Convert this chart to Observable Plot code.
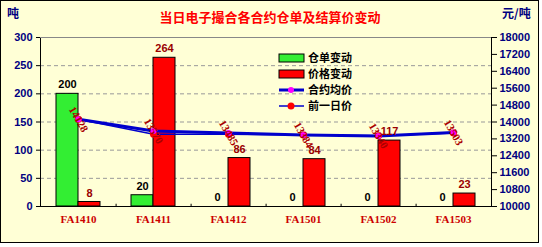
<!DOCTYPE html>
<html><head><meta charset="utf-8">
<script src="https://cdn.jsdelivr.net/npm/d3@7"></script>
<script src="https://cdn.jsdelivr.net/npm/@observablehq/plot@0.6"></script>
<style>
body{margin:0;background:#fff;}
#wrap{position:relative;width:542px;height:247px;}
</style></head>
<body><div id="wrap"></div>
<script>
const categories = ["FA1410","FA1411","FA1412","FA1501","FA1502","FA1503"];
const warehouseChange = [200, 20, 0, 0, 0, 0];
const priceChange = [8, 264, 86, 84, 117, 23];
const avgPrice = [14128, 13570, 13485, 13384, 13340, 13503];
const prevPrice = [14128, 13420, 13420, 13380, 13350, 13480];
const leftTicks = [0, 50, 100, 150, 200, 250, 300];
const rightTicks = [10000, 10800, 11600, 12400, 13200, 14000, 14800, 15600, 16400, 17200, 18000];
const title = "当日电子撮合各合约仓单及结算价变动";
const seriesNames = ["仓单变动", "价格变动", "合约均价", "前一日价"];

const R0 = 10000, R1 = 18000, L1 = 300;
const toLeft = v => (v - R0) * L1 / (R1 - R0);

const bars1 = categories.map((c, i) => ({c, v: warehouseChange[i]}));
const bars2 = categories.map((c, i) => ({c, v: priceChange[i]}));
const line1 = categories.map((c, i) => ({c, v: toLeft(avgPrice[i]), label: String(avgPrice[i])}));
const line2 = categories.map((c, i) => ({c, v: toLeft(prevPrice[i])}));

const navy = "#000080";
const bg = "#FFFFD6";
const font = "Liberation Sans, Arial, sans-serif";

const chart = Plot.plot({
  width: 542, height: 247,
  marginTop: 37, marginBottom: 41, marginLeft: 40, marginRight: 51,
  style: {background: "transparent", fontFamily: font},
  x: {domain: categories, paddingInner: 0.415, paddingOuter: 0.2075, label: null},
  y: {domain: [0, 300], label: null},
  marks: [
    Plot.ruleY([50, 100, 150, 200, 250], {stroke: "#999", strokeDasharray: "4,3"}),
    Plot.barY(bars1, {x: "c", y: "v", fill: "#33EE33", stroke: "black", strokeWidth: 1, insetRight: 22}),
    Plot.barY(bars2, {x: "c", y: "v", fill: "#FF0000", stroke: "black", strokeWidth: 1, insetLeft: 22}),
    Plot.frame({stroke: "black"}),
    Plot.ruleY([300], {stroke: "#888"}),
    Plot.ruleX(categories.slice(0, -1), {x: d => d, dx: 37.6, y1: 0, y2: 4, stroke: "black"}),
    Plot.lineY(line2, {x: "c", y: "v", stroke: "#0000CC", strokeWidth: 1.5}),
    Plot.lineY(line1, {x: "c", y: "v", stroke: "#0000CC", strokeWidth: 3}),
    Plot.dot(line2, {x: "c", y: "v", fill: "#FF0000", r: 3.5}),
    Plot.dot(line1, {x: "c", y: "v", fill: "#FF00FF", r: 3}),
    Plot.text(line1, {x: "c", y: "v", text: "label", rotate: 60, fill: "#AA0000", fontSize: 11, fontWeight: "bold", fontFamily: "Liberation Serif, serif"}),
    Plot.text(bars1, {x: "c", y: "v", text: d => String(d.v), dx: -11, dy: -9, fill: "black", fontSize: 11, fontWeight: "bold"}),
    Plot.text(bars2, {x: "c", y: "v", text: d => String(d.v), dx: 11, dy: -9, fill: "#990000", fontSize: 11, fontWeight: "bold"}),
    Plot.axisY({ticks: leftTicks, tickSize: 4, tickPadding: 4, fill: navy, fontSize: 11, fontWeight: "bold", label: null}),
    Plot.axisY({anchor: "right", ticks: rightTicks.map(toLeft), tickFormat: d => String(Math.round(R0 + d * (R1 - R0) / L1)), tickSize: 5, tickPadding: 3, fill: navy, fontSize: 11, fontWeight: "bold", label: null}),
    Plot.axisX({tickSize: 0, tickPadding: 9, fill: "#CC0000", fontSize: 11, fontWeight: "bold", fontFamily: "Liberation Serif, serif", label: null})
  ]
});

const svg = d3.select(chart);
svg.insert("rect", ":first-child").attr("x", 0.5).attr("y", 0.5).attr("width", 538).attr("height", 242)
  .attr("fill", bg).attr("stroke", "black");
const cjk = "Noto Sans CJK SC, sans-serif";
svg.append("text").attr("x", 270).attr("y", 22).attr("text-anchor", "middle")
  .attr("fill", "#FF0000").attr("font-size", 13).attr("font-weight", "bold").attr("font-family", cjk).text(title);
svg.append("text").attr("x", 7).attr("y", 18).attr("text-anchor", "start").attr("fill", navy).attr("font-size", 12).attr("font-weight", "bold").attr("font-family", cjk).text("吨");
svg.append("text").attr("x", 502).attr("y", 18).attr("text-anchor", "start").attr("fill", navy).attr("font-size", 12).attr("font-weight", "bold").attr("font-family", cjk).text("元/吨");

const lg = svg.append("g").attr("font-family", cjk).attr("font-size", 11).attr("font-weight", "bold").attr("text-anchor", "start");
const rows = [58, 74, 90, 106];
lg.append("rect").attr("x", 279).attr("y", rows[0] - 4).attr("width", 25).attr("height", 8).attr("fill", "#33EE33").attr("stroke", "black");
lg.append("rect").attr("x", 279).attr("y", rows[1] - 4).attr("width", 25).attr("height", 8).attr("fill", "#FF0000").attr("stroke", "black");
lg.append("line").attr("x1", 279).attr("x2", 304).attr("y1", rows[2]).attr("y2", rows[2]).attr("stroke", "#0000CC").attr("stroke-width", 3);
lg.append("circle").attr("cx", 291).attr("cy", rows[2]).attr("r", 3).attr("fill", "#FF00FF");
lg.append("line").attr("x1", 279).attr("x2", 304).attr("y1", rows[3]).attr("y2", rows[3]).attr("stroke", "#0000CC").attr("stroke-width", 1.5);
lg.append("circle").attr("cx", 291).attr("cy", rows[3]).attr("r", 3.5).attr("fill", "#FF0000");
seriesNames.forEach((n, i) => {
  lg.append("text").attr("x", 308).attr("y", rows[i] + 4).attr("text-anchor", "start").attr("fill", "black").text(n);
});

document.getElementById("wrap").appendChild(chart);
</script></body></html>
